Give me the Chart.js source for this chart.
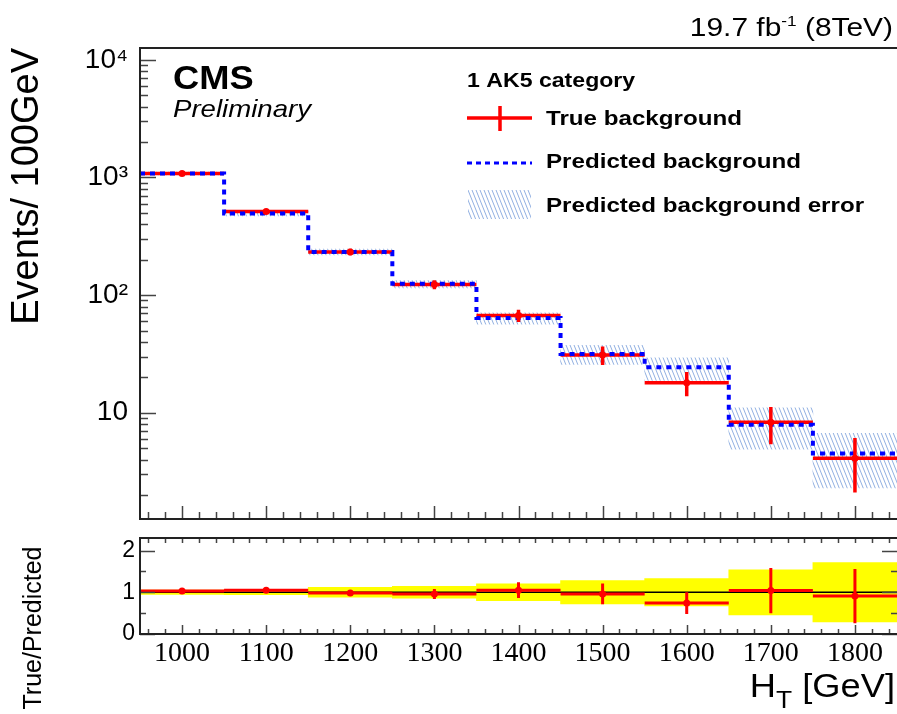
<!DOCTYPE html>
<html>
<head>
<meta charset="utf-8">
<title>HT background prediction</title>
<script src="https://cdn.jsdelivr.net/npm/chart.js@4.4.0/dist/chart.umd.min.js"></script>
<style>
  html, body { margin: 0; padding: 0; background: #fff; }
  #wrap { position: relative; width: 897px; height: 714px; overflow: hidden; }
  canvas { position: absolute; left: 0; }
  #mainCanvas { top: 0; }
  #ratioCanvas { top: 530px; }
</style>
</head>
<body>
<div id="wrap">
  <canvas id="mainCanvas" width="897" height="530"></canvas>
  <canvas id="ratioCanvas" width="897" height="184"></canvas>
</div>
<script>
// --- binning in H_T (GeV) ---
const binEdges = [950, 1050, 1150, 1250, 1350, 1450, 1550, 1650, 1750, 1850];
const binCenters = [1000, 1100, 1200, 1300, 1400, 1500, 1600, 1700, 1800];

// --- events / 100 GeV ---
const trueBkg = [1080, 514, 233, 123, 67, 31, 18, 8.3, 4.1];
const trueErr = [33, 23, 15, 11, 8, 5.5, 4.2, 2.9, 2.0];
const predBkg = [1080, 494, 233, 125, 64, 31.6, 24.4, 7.9, 4.5];
const predLo = [1050, 470, 220, 115, 56.5, 25.7, 18.8, 4.9, 2.3];
const predHi = [1110, 520, 246, 133, 70.8, 37.5, 29.3, 11, 6.7];

// --- ratio panel ---
const ratioVal = [1.03, 1.05, 0.98, 0.96, 1.05, 0.96, 0.74, 1.04, 0.91];
const ratioErr = [0.03, 0.05, 0.07, 0.12, 0.19, 0.25, 0.26, 0.54, 0.65];
const ratioBand = [0.05, 0.06, 0.12, 0.14, 0.2, 0.28, 0.33, 0.54, 0.71];

// --- axis ticks ---
const yTickValues = [10, 100, 1000, 10000];
const yTickLabels = ['10', '10²', '10³', '10⁴'];
const xTickValues = [1000, 1100, 1200, 1300, 1400, 1500, 1600, 1700, 1800];
const ratioTickValues = [0, 1, 2];

const RED = '#ff0000';
const BLUE = '#0000ff';
const SANS = "'Liberation Sans', Arial, sans-serif";
const SERIF = "'Liberation Serif', 'Times New Roman', serif";

// horizontal bin segments, broken between bins
function binSegments(vals) {
    return binCenters.flatMap((c, i) => [
        { x: binEdges[i], y: vals[i] },
        { x: binEdges[i + 1], y: vals[i] },
        { x: binEdges[i + 1], y: null }
    ]);
}

// vertical error bars at the bin centres
function errorBars(vals, errs) {
    return binCenters.flatMap((c, i) => [
        { x: c, y: vals[i] - errs[i] },
        { x: c, y: vals[i] + errs[i] },
        { x: c, y: null }
    ]);
}

// step histogram: one point per lower edge, closed at the last edge
function stepPoints(vals) {
    return binEdges.map((e, i) => ({ x: e, y: vals[Math.min(i, vals.length - 1)] }));
}

// diagonal hatch for the prediction uncertainty
function makeHatch(ctx) {
    const c = document.createElement('canvas');
    c.width = 4; c.height = 10;
    const g = c.getContext('2d');
    g.strokeStyle = 'rgba(110,150,215,0.75)';
    g.lineWidth = 1;
    [-4, 0, 4].forEach(dx => {
        g.beginPath();
        g.moveTo(dx, 0);
        g.lineTo(dx + 4, 10);
        g.stroke();
    });
    return ctx.createPattern(c, 'repeat');
}

// text with a slight horizontal stretch, like the ROOT output
function stretchText(ctx, s, x, y, font, sx) {
    ctx.save();
    ctx.font = font;
    ctx.translate(x, y);
    ctx.scale(sx, 1);
    ctx.textAlign = 'left';
    ctx.textBaseline = 'alphabetic';
    ctx.fillText(s, 0, 0);
    ctx.restore();
}
function textWidth(ctx, s, font, sx) {
    ctx.save();
    ctx.font = font;
    const w = ctx.measureText(s).width * sx;
    ctx.restore();
    return w;
}

// keep the plot frame fixed: no extra room for overflowing tick labels
function fixedBox(width, height) {
    return s => {
        if (width !== null) s.width = width;
        if (height !== null) s.height = height;
        s.paddingTop = 0;
        s.paddingBottom = 0;
        s.paddingLeft = 0;
        s.paddingRight = 0;
    };
}

const mainCtx = document.getElementById('mainCanvas').getContext('2d');
const ratioCtx = document.getElementById('ratioCanvas').getContext('2d');
const hatch = makeHatch(mainCtx);

// --- inside tick marks + frame (ROOT style) ---
const mainFrame = {
    id: 'mainFrame',
    afterDatasetsDraw(chart) {
        const { ctx, chartArea: a, scales: { x, y } } = chart;
        ctx.save();
        ctx.strokeStyle = '#444';
        ctx.lineWidth = 1.5;
        ctx.beginPath();
        for (let e = 0; e <= 4; e++) {
            for (let m = 1; m <= 9; m++) {
                const v = m * Math.pow(10, e);
                if (v < y.min || v > y.max) continue;
                const py = Math.round(y.getPixelForValue(v)) + 0.5;
                ctx.moveTo(a.left, py);
                ctx.lineTo(a.left + (m === 1 ? 16 : 8), py);
            }
        }
        for (let v = 960; v < 1850; v += 20) {
            const px = Math.round(x.getPixelForValue(v)) + 0.5;
            ctx.moveTo(px, a.bottom);
            ctx.lineTo(px, a.bottom - (v % 100 === 0 ? 13 : 7));
        }
        ctx.stroke();
        ctx.strokeStyle = '#222';
        ctx.lineWidth = 2;
        ctx.beginPath();
        ctx.moveTo(a.right + 3, a.top);
        ctx.lineTo(a.left, a.top);
        ctx.lineTo(a.left, a.bottom);
        ctx.lineTo(a.right + 3, a.bottom);
        ctx.stroke();
        ctx.restore();
    },
    afterDraw(chart) {
        const ctx = chart.ctx;
        ctx.save();
        ctx.fillStyle = '#000';

        // luminosity label, right aligned
        const f1 = '26px ' + SANS, f2 = '15px ' + SANS, sx = 1.15;
        const parts = [['19.7 fb', f1, 36], ['-1', f2, 26], [' (8TeV)', f1, 36]];
        let w = 0;
        parts.forEach(p => { w += textWidth(ctx, p[0], p[1], sx); });
        let px = 893 - w;
        parts.forEach(p => {
            stretchText(ctx, p[0], px, p[2], p[1], sx);
            px += textWidth(ctx, p[0], p[1], sx);
        });

        stretchText(ctx, 'CMS', 173, 89, 'bold 33px ' + SANS, 1.1);
        stretchText(ctx, 'Preliminary', 173, 117, 'italic 24px ' + SANS, 1.15);

        // legend
        const lf = 'bold 21px ' + SANS;
        stretchText(ctx, '1 AK5 category', 467, 87, lf, 1.1);
        stretchText(ctx, 'True background', 546, 125, lf, 1.15);
        stretchText(ctx, 'Predicted background', 546, 168, lf, 1.15);
        stretchText(ctx, 'Predicted background error', 546, 212, lf, 1.15);

        ctx.strokeStyle = RED;
        ctx.lineWidth = 3.5;
        ctx.beginPath();
        ctx.moveTo(467, 118); ctx.lineTo(532, 118);
        ctx.moveTo(500, 106); ctx.lineTo(500, 131);
        ctx.stroke();

        ctx.strokeStyle = BLUE;
        ctx.lineWidth = 3;
        ctx.setLineDash([5, 4]);
        ctx.beginPath();
        ctx.moveTo(467, 163); ctx.lineTo(532, 163);
        ctx.stroke();
        ctx.setLineDash([]);

        ctx.fillStyle = hatch;
        ctx.fillRect(468, 190, 63, 29);
        ctx.restore();
    }
};

const ratioFrame = {
    id: 'ratioFrame',
    afterDatasetsDraw(chart) {
        const { ctx, chartArea: a, scales: { x, y } } = chart;
        ctx.save();
        ctx.strokeStyle = '#444';
        ctx.lineWidth = 1.5;
        ctx.beginPath();
        for (let v = 0; v <= 2; v += 0.5) {
            const py = Math.round(y.getPixelForValue(v)) + 0.5;
            const len = Number.isInteger(v) ? 15 : 6;
            ctx.moveTo(a.left, py); ctx.lineTo(a.left + len, py);
            ctx.moveTo(a.right, py); ctx.lineTo(a.right - len, py);
        }
        for (let v = 960; v < 1850; v += 20) {
            const px = Math.round(x.getPixelForValue(v)) + 0.5;
            ctx.moveTo(px, a.bottom);
            ctx.lineTo(px, a.bottom - (v % 100 === 0 ? 9 : 5));
            ctx.moveTo(px, a.top);
            ctx.lineTo(px, a.top + 5);
        }
        ctx.stroke();
        ctx.strokeStyle = '#222';
        ctx.lineWidth = 2;
        ctx.beginPath();
        ctx.moveTo(a.right + 3, a.top);
        ctx.lineTo(a.left, a.top);
        ctx.lineTo(a.left, a.bottom);
        ctx.lineTo(a.right + 3, a.bottom);
        ctx.stroke();
        ctx.restore();
    },
    afterDraw(chart) {
        const ctx = chart.ctx;
        ctx.save();
        ctx.fillStyle = '#000';

        // x title H_T [GeV], right aligned
        const big = '33px ' + SANS, sub = '24px ' + SANS, sx = 1.1;
        const wH = textWidth(ctx, 'H', big, sx);
        const wT = textWidth(ctx, 'T', sub, sx);
        const wG = textWidth(ctx, ' [GeV]', big, sx);
        let px = 895 - (wH + wT + wG);
        stretchText(ctx, 'H', px, 167, big, sx); px += wH;
        stretchText(ctx, 'T', px, 178, sub, sx); px += wT;
        stretchText(ctx, ' [GeV]', px, 167, big, sx);

        // y title
        ctx.translate(41, 98);
        ctx.rotate(-Math.PI / 2);
        ctx.font = '25px ' + SANS;
        ctx.textAlign = 'center';
        ctx.textBaseline = 'alphabetic';
        ctx.fillText('True/Predicted', 0, 0);
        ctx.restore();
    }
};

// --- main panel: log-scale event counts ---
new Chart(mainCtx, {
    type: 'bar',
    data: {
        datasets: [
            {
                type: 'bar',
                data: binCenters.map((c, i) => ({ x: c, y: [predLo[i], predHi[i]] })),
                backgroundColor: hatch,
                borderWidth: 0,
                barPercentage: 1,
                categoryPercentage: 1,
                order: 4
            },
            {
                type: 'line',
                data: binSegments(trueBkg),
                borderColor: RED,
                borderWidth: 3.5,
                pointRadius: 0,
                spanGaps: false,
                order: 3
            },
            {
                type: 'line',
                data: stepPoints(predBkg),
                stepped: true,
                borderColor: BLUE,
                borderWidth: 4,
                borderDash: [5, 5],
                borderCapStyle: 'butt',
                pointRadius: 0,
                order: 2
            },
            {
                type: 'line',
                data: errorBars(trueBkg, trueErr),
                borderColor: RED,
                borderWidth: 3.5,
                pointRadius: 0,
                spanGaps: false,
                order: 1
            },
            {
                type: 'line',
                data: binCenters.map((c, i) => ({ x: c, y: trueBkg[i] })),
                showLine: false,
                pointRadius: 3.5,
                pointBackgroundColor: RED,
                pointBorderWidth: 0,
                order: 0
            }
        ]
    },
    options: {
        responsive: false,
        animation: false,
        events: [],
        layout: { autoPadding: false, padding: { top: 48, right: 0, bottom: 11, left: 0 } },
        plugins: { legend: { display: false }, tooltip: { enabled: false } },
        scales: {
            x: {
                type: 'linear',
                min: 950,
                max: 1850,
                offset: false,
                display: false,
                afterBuildTicks: s => { s.ticks = xTickValues.map(v => ({ value: v })); }
            },
            y: {
                type: 'logarithmic',
                min: 1.25,
                max: 12600,
                grid: { display: false, drawTicks: false },
                border: { display: false },
                afterBuildTicks: s => { s.ticks = yTickValues.map(v => ({ value: v })); },
                afterFit: fixedBox(140, null),
                ticks: {
                    autoSkip: false,
                    padding: 12,
                    color: '#000',
                    font: { family: SANS, size: 28 },
                    callback: v => {
                        const i = yTickValues.findIndex(t => Math.abs(t - v) < 1e-6 * t);
                        return i >= 0 ? yTickLabels[i] : '';
                    }
                },
                title: {
                    display: true,
                    text: 'Events/ 100GeV',
                    align: 'end',
                    color: '#000',
                    font: { family: SANS, size: 38 },
                    padding: { top: 5, bottom: 0 }
                }
            }
        }
    },
    plugins: [mainFrame]
});

// --- ratio panel: true / predicted ---
new Chart(ratioCtx, {
    type: 'bar',
    data: {
        datasets: [
            {
                type: 'bar',
                data: binCenters.map((c, i) => ({ x: c, y: [1 - ratioBand[i], 1 + ratioBand[i]] })),
                backgroundColor: '#ffff00',
                borderWidth: 0,
                barPercentage: 1,
                categoryPercentage: 1,
                order: 4
            },
            {
                type: 'line',
                data: [{ x: binEdges[0], y: 1 }, { x: binEdges[binEdges.length - 1], y: 1 }],
                borderColor: '#000',
                borderWidth: 1.5,
                pointRadius: 0,
                order: 3
            },
            {
                type: 'line',
                data: binSegments(ratioVal),
                borderColor: RED,
                borderWidth: 3,
                pointRadius: 0,
                spanGaps: false,
                order: 2
            },
            {
                type: 'line',
                data: errorBars(ratioVal, ratioErr),
                borderColor: RED,
                borderWidth: 3,
                pointRadius: 0,
                spanGaps: false,
                order: 1
            },
            {
                type: 'line',
                data: binCenters.map((c, i) => ({ x: c, y: ratioVal[i] })),
                showLine: false,
                pointRadius: 3.5,
                pointBackgroundColor: RED,
                pointBorderWidth: 0,
                order: 0
            }
        ]
    },
    options: {
        responsive: false,
        animation: false,
        events: [],
        layout: { autoPadding: false, padding: { top: 8, right: 0, bottom: 0, left: 0 } },
        plugins: { legend: { display: false }, tooltip: { enabled: false } },
        scales: {
            x: {
                type: 'linear',
                min: 950,
                max: 1850,
                offset: false,
                grid: { display: false, drawTicks: false },
                border: { display: false },
                afterBuildTicks: s => { s.ticks = xTickValues.map(v => ({ value: v })); },
                afterFit: fixedBox(null, 80),
                ticks: {
                    autoSkip: false,
                    maxRotation: 0,
                    padding: 3,
                    color: '#000',
                    font: { family: SERIF, size: 28 },
                    callback: v => String(v)
                }
            },
            y: {
                type: 'linear',
                min: 0,
                max: 2.3,
                grid: { display: false, drawTicks: false },
                border: { display: false },
                afterBuildTicks: s => { s.ticks = ratioTickValues.map(v => ({ value: v })); },
                afterFit: fixedBox(140, null),
                ticks: {
                    autoSkip: false,
                    padding: 5,
                    color: '#000',
                    font: { family: SANS, size: 23 },
                    callback: v => String(v)
                }
            }
        }
    },
    plugins: [ratioFrame]
});
</script>
</body>
</html>
